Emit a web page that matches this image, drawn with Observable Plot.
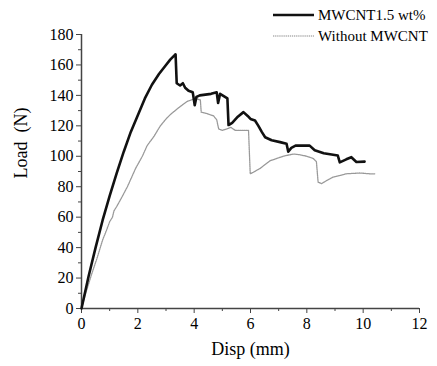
<!DOCTYPE html>
<html><head><meta charset="utf-8">
<script src="https://cdn.jsdelivr.net/npm/d3@7"></script>
<script src="https://cdn.jsdelivr.net/npm/@observablehq/plot@0.6"></script>
<style>body{margin:0;background:#fff} #c{width:437px;height:366px}</style>
</head><body><div id="c"></div>
<script>
const seriesNames = ["MWCNT1.5 wt%", "Without MWCNT"];
const xTitle = "Disp (mm)";
const yTitle = "Load\u00a0\u00a0(N)";
const xTicks = [0, 2, 4, 6, 8, 10, 12];
const xMinor = [1, 3, 5, 7, 9, 11];
const yTicks = [0, 20, 40, 60, 80, 100, 120, 140, 160, 180];
const yMinor = [10, 30, 50, 70, 90, 110, 130, 150, 170];

const mwcntX = [0, 0.25, 0.5, 0.75, 1.0, 1.25, 1.5, 1.75, 2.0, 2.25, 2.5, 2.75, 3.0, 3.15, 3.3, 3.34,
  3.38, 3.5, 3.6, 3.68, 3.8, 3.95, 4.02, 4.08, 4.2, 4.4, 4.6, 4.8, 4.85, 4.92, 5.05, 5.18,
  5.22, 5.35, 5.55, 5.75, 5.9, 6.0, 6.16, 6.28, 6.4, 6.52, 6.75, 7.05, 7.28, 7.34, 7.45,
  7.6, 8.1, 8.28, 8.6, 9.1, 9.17, 9.4, 9.58, 9.76, 10.05];
const mwcntY = [0, 21, 40, 58, 74, 89, 103, 116, 127, 138, 147, 154, 160, 163.5, 166.3, 167,
  148, 146.5, 148, 145, 143, 142, 133.5, 139, 140, 140.5, 141, 142, 135, 141, 139.5, 138,
  120.5, 122, 126, 129, 126.5, 124.5, 123.5, 120, 116, 112.5, 110.5, 109.3, 108.2, 103, 105.5,
  107, 107, 104, 102, 100.5, 96, 98, 99.4, 96.2, 96.5];

const plainX = [0, 0.15, 0.35, 0.55, 0.75, 0.9, 1.0, 1.1, 1.15, 1.25, 1.4, 1.63, 1.92, 2.16,
  2.33, 2.57, 2.8, 3.0, 3.16, 3.39, 3.6, 3.75, 4.04, 4.22, 4.25, 4.46, 4.69, 4.8, 4.87, 5.0,
  5.16, 5.3, 5.46, 5.7, 5.93, 5.99, 6.1, 6.34, 6.69, 7.16, 7.52, 7.75, 8.0, 8.23, 8.34, 8.4,
  8.52, 8.7, 8.93, 9.2, 9.4, 9.88, 10.23, 10.41];
const plainY = [0, 10, 22, 33, 45, 52, 57, 60, 64, 67, 72, 80, 92, 100,
  107, 113, 120, 124.5, 127.5, 131, 134, 136, 138, 137, 129, 128, 126.5, 124, 118, 117,
  118, 119, 117, 117, 117, 88.5, 89.5, 92, 97, 100, 101.5, 101, 100, 98.5, 96.5, 83,
  82, 84, 86.3, 87.5, 88.5, 89, 88.5, 88.5];

const mwcnt = mwcntX.map((x, i) => ({x, y: mwcntY[i]}));
const plain = plainX.map((x, i) => ({x, y: plainY[i]}));

const axisColor = "#444";
const chart = Plot.plot({
  width: 437, height: 366,
  marginLeft: 81, marginRight: 18, marginTop: 34, marginBottom: 58,
  style: {fontFamily: "Liberation Serif", fontSize: "16px", color: "#000", background: "#fff"},
  x: {domain: [0, 12]},
  y: {domain: [0, 180]},
  marks: [
    Plot.axisX(xMinor, {tickSize: 3, tickFormat: () => "", label: null, stroke: axisColor}),
    Plot.axisY(yMinor, {tickSize: 3, tickFormat: () => "", label: null, stroke: axisColor}),
    Plot.axisX(xTicks, {tickSize: 5, tickPadding: 4, label: null, stroke: axisColor, fontSize: 16}),
    Plot.axisY(yTicks, {tickSize: 5, tickPadding: 3, label: null, stroke: axisColor, fontSize: 16}),
    Plot.ruleX([0], {stroke: axisColor, strokeWidth: 1.5}),
    Plot.ruleY([0], {stroke: axisColor, strokeWidth: 1.5}),
    Plot.line(plain, {x: "x", y: "y", stroke: "#999", strokeWidth: 1.3, strokeDasharray: "1.3,0.8"}),
    Plot.line(mwcnt, {x: "x", y: "y", stroke: "#111", strokeWidth: 2.6}),
    Plot.text([xTitle], {text: d => d, frameAnchor: "bottom", dy: 46, fontSize: 18}),
    Plot.text([yTitle], {text: d => d, frameAnchor: "left", rotate: -90, dx: -60, dy: 7, fontSize: 18})
  ]
});
document.getElementById("c").appendChild(chart);

// legend
const svg = d3.select(chart);
const lg = svg.append("g").attr("font-family", "Liberation Serif").attr("font-size", 15)
  .attr("text-anchor", "start");
const legendItems = [
  {name: seriesNames[0], stroke: "#111", width: 2.6, dash: null, y: 15},
  {name: seriesNames[1], stroke: "#888", width: 1.2, dash: "1.3,0.8", y: 36}
];
legendItems.forEach(d => {
  lg.append("line").attr("x1", 273).attr("x2", 314).attr("y1", d.y).attr("y2", d.y)
    .attr("stroke", d.stroke).attr("stroke-width", d.width)
    .attr("stroke-dasharray", d.dash);
  lg.append("text").attr("x", 318).attr("y", d.y).attr("dy", "0.35em").attr("fill", "#000").text(d.name);
});
</script>
</body></html>
